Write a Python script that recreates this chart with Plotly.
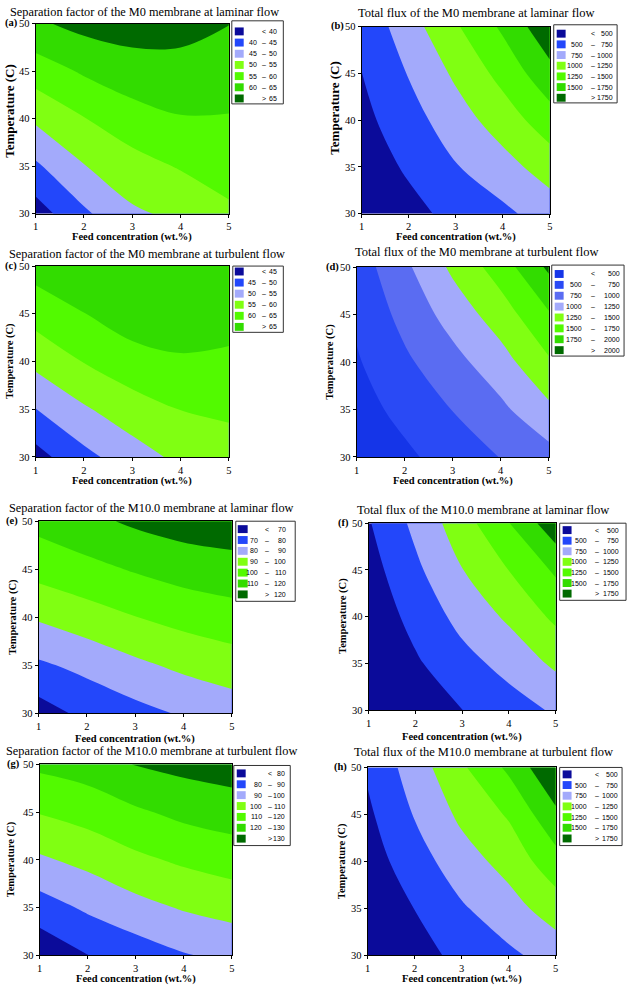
import plotly.graph_objects as go

W, H = 633, 992

# ---------------- data ----------------
FEED = [1, 2, 3, 4, 5]              # wt.%
TEMP = [30, 35, 40, 45, 50]         # C

# rows: TEMP, columns: FEED
SF_M0_LAM = [[37.6, 44.1, 49.2, 51.1, 54.2],
             [44.2, 49.8, 53.1, 55.4, 56.9],
             [50.9, 54.8, 57.9, 59.7, 59.7],
             [57.4, 60.6, 62.8, 63.3, 62.4],
             [64.2, 66.5, 67.2, 66.7, 65.1]]
FLUX_M0_LAM = [[300, 425, 571, 695, 865],
               [365, 534, 734, 907, 1115],
               [430, 648, 885, 1119, 1387],
               [497, 763, 1043, 1330, 1668],
               [560, 892, 1220, 1542, 1940]]
SF_M0_TUR = [[43.2, 48.6, 52.7, 56.2, 57.7],
             [49.9, 54.4, 57.9, 60.1, 60.9],
             [56.4, 60.2, 62.9, 64.4, 64.0],
             [62.0, 64.9, 67.8, 67.8, 67.1],
             [67.0, 68.5, 69.5, 69.0, 68.5]]
FLUX_M0_TUR = [[320, 450, 610, 757, 907],
               [400, 574, 756, 947, 1198],
               [475, 705, 919, 1150, 1468],
               [545, 828, 1100, 1377, 1724],
               [618, 947, 1299, 1620, 2046]]
SF_M10_LAM = [[65.6, 72.7, 76.9, 81.1, 84.6],
              [78.5, 82.8, 88.0, 92.2, 95.4],
              [91.2, 95.8, 99.8, 103.3, 105.9],
              [103.7, 107.1, 110.9, 114.2, 116.0],
              [113.0, 117.5, 121.7, 124.6, 126.0]]
FLUX_M10_LAM = [[218, 359, 498, 641, 782],
                [270, 466, 664, 833, 1048],
                [330, 580, 829, 1042, 1303],
                [400, 698, 993, 1254, 1538],
                [480, 809, 1142, 1493, 1917]]
SF_M10_TUR = [[72.4, 79.9, 84.6, 89.3, 92.4],
              [85.5, 91.6, 96.8, 100.9, 103.6],
              [98.5, 102.8, 107.9, 111.6, 114.5],
              [110.5, 114.0, 118.5, 122.5, 124.8],
              [122.1, 124.7, 130.5, 132.9, 134.8]]
FLUX_M10_TUR = [[268, 414, 560, 702, 853],
                [320, 503, 721, 901, 1125],
                [380, 636, 889, 1089, 1403],
                [455, 765, 1054, 1277, 1696],
                [534, 872, 1211, 1549, 1996]]

LEV_A = [40, 45, 50, 55, 60, 65]
LEV_B = [500, 750, 1000, 1250, 1500, 1750]
LEV_C = [45, 50, 55, 60, 65]
LEV_D = [500, 750, 1000, 1250, 1500, 1750, 2000]
LEV_E = [70, 80, 90, 100, 110, 120]
LEV_F = [500, 750, 1000, 1250, 1500, 1750]
LEV_G = [80, 90, 100, 110, 120, 130]
LEV_H = [500, 750, 1000, 1250, 1500, 1750]

TITLES = ["Separation factor of the M0 membrane at laminar flow",
          "Total flux of the M0 membrane at laminar flow",
          "Separation factor of the M0 membrane at turbulent flow",
          "Total flux of the M0 membrane at turbulent flow",
          "Separation factor of the M10.0 membrane at laminar flow",
          "Total flux of the M10.0 membrane at laminar flow",
          "Separation factor of the M10.0 membrane at turbulent flow",
          "Total flux of the M10.0 membrane at turbulent flow"]
LABELS = ["(a)", "(b)", "(c)", "(d)", "(e)", "(f)", "(g)", "(h)"]
XTICKS = [1, 2, 3, 4, 5]
YTICKS = [30, 35, 40, 45, 50]

# ---------------- styles ----------------
NAVY, BLUE, LAV = "#0b0b9a", "#2347fa", "#a3aafb"
CHART, GREEN, GREEN3, DKG = "#80ff12", "#52fa00", "#32dc00", "#006a00"
PAL7 = [NAVY, BLUE, LAV, CHART, GREEN, GREEN3, DKG]
PAL6 = [NAVY, BLUE, LAV, CHART, GREEN, GREEN3]
PAL8 = ["#1535e8", "#2a4af5", "#5a6cf2", LAV, CHART, GREEN, GREEN3, DKG]

SERIF = "Liberation Serif, Times New Roman, serif"
SANS = "Liberation Sans, Arial, sans-serif"

# layout per panel (pixel geometry)
PANELS = [
    dict(z=SF_M0_LAM, lev=LEV_A, pal=PAL7, plot=(33, 19, 228, 211), title=(143, 7), lab=(9, 18), yt=(7, 107),
         xt=235, yts=13, tts=12.3, box=(231, 16, 283, 100), c0=26.7, dy=11.3, sw=(234, 243),
         cols=(257, 263, 278)),
    dict(z=FLUX_M0_LAM, lev=LEV_B, pal=PAL7, plot=(362, 22, 552, 211), title=(478, 8), lab=(338, 21),
         yt=(335, 104), xt=235, yts=13, tts=12.5, box=(556, 20, 620, 99), c0=29, dy=10.8, sw=(559, 568),
         cols=(587, 596, 617)),
    dict(z=SF_M0_TUR, lev=LEV_C, pal=PAL6, plot=(33, 264, 228, 457), title=(145, 252), lab=(8, 264),
         yt=(7, 360), xt=481, yts=10.5, tts=12.3, box=(232, 264, 283, 331), c0=269.5, dy=11.2, sw=(234, 243),
         cols=(256, 263, 278)),
    dict(z=FLUX_M0_TUR, lev=LEV_D, pal=PAL8, plot=(357, 265, 551, 457), title=(479, 250), lab=(333, 265),
         yt=(330, 361), xt=481, yts=10.5, tts=12.5, box=(554, 263, 627, 355), c0=272, dy=11, sw=(557, 566),
         cols=(586, 596, 624)),
    dict(z=SF_M10_LAM, lev=LEV_E, pal=PAL7, plot=(36, 522, 231, 716), title=(150, 509), lab=(9, 522),
         yt=(10, 619), xt=742, yts=10.5, tts=12.3, box=(235, 522, 295, 603), c0=530, dy=11, sw=(237, 247),
         cols=(258, 267, 287)),
    dict(z=FLUX_M10_LAM, lev=LEV_F, pal=PAL7, plot=(369, 524, 558, 713), title=(485, 511), lab=(344, 524),
         yt=(343, 618), xt=740, yts=10.5, tts=12.5, box=(562, 524, 629, 602), c0=531, dy=10.7,
         sw=(565, 574), cols=(591, 600, 623)),
    dict(z=SF_M10_TUR, lev=LEV_G, pal=PAL7, plot=(37, 768, 231, 961), title=(150, 754), lab=(11, 768),
         yt=(9, 864), xt=985, yts=10.5, tts=12.3, box=(233, 769, 290, 850), c0=777, dy=11, sw=(236, 245),
         cols=(262, 270, 286)),
    dict(z=FLUX_M10_TUR, lev=LEV_H, pal=PAL7, plot=(368, 771, 558, 961), title=(485, 755), lab=(341, 771),
         yt=(343, 866), xt=985, yts=10.5, tts=12.5, box=(562, 771, 625, 850), c0=778, dy=10.8,
         sw=(565, 574), cols=(591, 600, 622)),
]


def fx(px):
    return px / W


def fy(py):
    return 1 - py / H


fig = go.Figure()
annotations = []
shapes = []
layout_axes = {}

for i, p in enumerate(PANELS):
    k = "" if i == 0 else str(i + 1)
    lev = p["lev"]
    size = lev[1] - lev[0]
    n = len(p["pal"])
    cs = [[j / (n - 1), c] for j, c in enumerate(p["pal"])]
    fig.add_trace(go.Contour(
        x=FEED, y=TEMP, z=p["z"], xaxis="x" + k, yaxis="y" + k,
        autocontour=False,
        contours=dict(start=lev[0], end=lev[-1], size=size, coloring="fill", showlines=False),
        colorscale=cs, showscale=False, line=dict(width=0, smoothing=1.0),
    ))
    L, T, R, B = p["plot"]
    common = dict(ticks="outside", ticklen=3, tickcolor="black", showline=True, mirror=True,
                  linecolor="black", linewidth=1, showgrid=False, zeroline=False,
                  tickfont=dict(family=SERIF, size=10.5, color="black"))
    layout_axes["xaxis" + k] = dict(domain=[fx(L), fx(R)], anchor="y" + k, range=[1, 5], tickvals=XTICKS,
                                    **common)
    layout_axes["yaxis" + k] = dict(domain=[fy(B), fy(T)], anchor="x" + k, range=[30, 50], tickvals=YTICKS,
                                    **common)

    # title, panel label, axis titles
    annotations.append(dict(text=TITLES[i], x=fx(p["title"][0]), y=fy(p["title"][1]), xref="paper", yref="paper",
                            xanchor="center", yanchor="middle", showarrow=False,
                            font=dict(family=SERIF, size=p["tts"], color="black")))
    annotations.append(dict(text="<b>%s</b>" % LABELS[i], x=fx(p["lab"][0]), y=fy(p["lab"][1]), xref="paper",
                            yref="paper", xanchor="center", yanchor="middle", showarrow=False,
                            font=dict(family=SERIF, size=10.5, color="black")))
    annotations.append(dict(text="<b>Feed concentration (wt.%)</b>", x=fx((L + R) / 2), y=fy(p["xt"]),
                            xref="paper", yref="paper", xanchor="center", yanchor="middle", showarrow=False,
                            font=dict(family=SERIF, size=10.5, color="black")))
    annotations.append(dict(text="<b>Temperature (C)</b>", x=fx(p["yt"][0]), y=fy(p["yt"][1]), textangle=-90,
                            xref="paper", yref="paper", xanchor="center", yanchor="middle", showarrow=False,
                            font=dict(family=SERIF, size=p["yts"], color="black")))

    # legend box
    bl, bt, br, bb = p["box"]
    shapes.append(dict(type="rect", xref="paper", yref="paper", x0=fx(bl), x1=fx(br), y0=fy(bb), y1=fy(bt),
                       line=dict(color="#333333", width=1), fillcolor="white", layer="below"))
    labels = [("", "<", str(lev[0]))] + [(str(lev[j]), "–", str(lev[j + 1])) for j in range(len(lev) - 1)] + \
             [("", ">", str(lev[-1]))]
    lo_x, dash_x, hi_x = p["cols"]
    for j, (lo, mid, hi) in enumerate(labels):
        cy = p["c0"] + j * p["dy"]
        shapes.append(dict(type="rect", xref="paper", yref="paper", x0=fx(p["sw"][0]), x1=fx(p["sw"][1]),
                           y0=fy(cy + 4), y1=fy(cy - 4), line=dict(width=0), fillcolor=p["pal"][j]))
        for txt, xx, anc in ((lo, lo_x, "right"), (mid, dash_x, "center"), (hi, hi_x, "right")):
            if txt:
                annotations.append(dict(text=txt, x=fx(xx), y=fy(cy), xref="paper", yref="paper",
                                        xanchor=anc, yanchor="middle", showarrow=False, borderpad=0,
                                        font=dict(family=SANS, size=7, color="black")))

fig.update_layout(width=W, height=H, margin=dict(l=0, r=0, t=0, b=0), showlegend=False,
                  paper_bgcolor="white", plot_bgcolor="white",
                  annotations=annotations, shapes=shapes, **layout_axes)
fig.write_html("out.html", config={"displayModeBar": False},
               post_script="document.body.style.margin='0px';document.body.style.overflow='hidden';")
